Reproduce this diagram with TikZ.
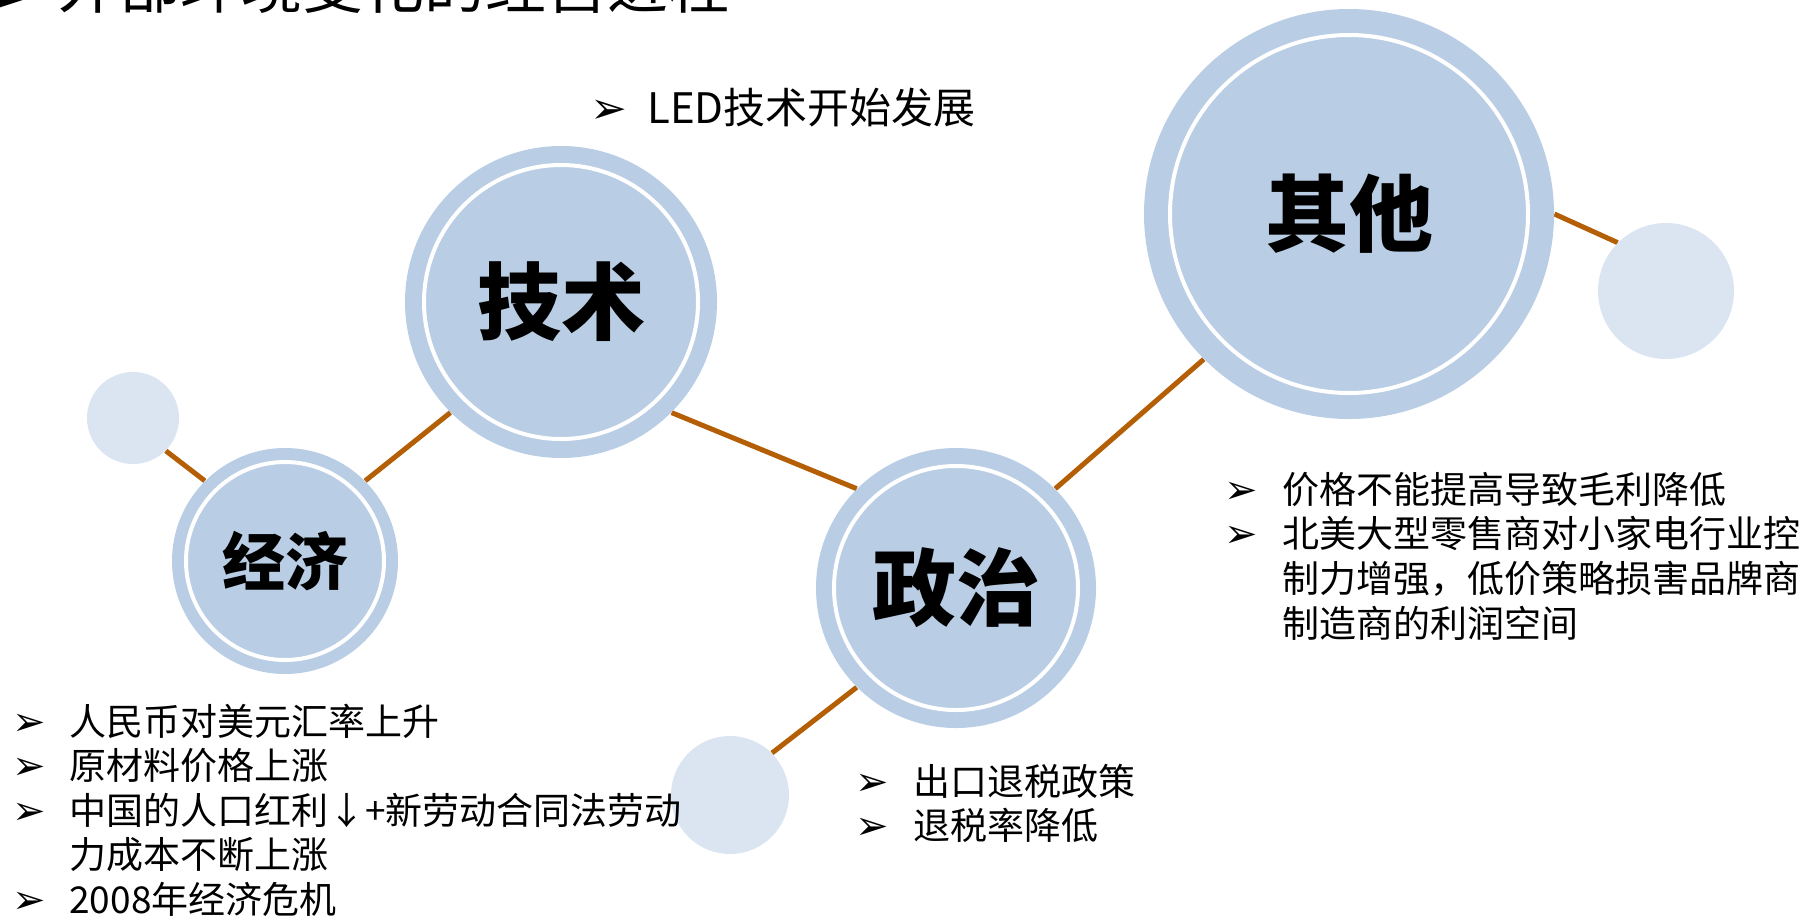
\documentclass[tikz,border=0pt]{standalone}
\usepackage{fontspec}
\setmainfont{Noto Sans CJK SC}
\newfontfamily\cjk{Noto Sans CJK SC}
\newfontfamily\dejavu{DejaVu Sans}
\usetikzlibrary{backgrounds}
\definecolor{mainblue}{RGB}{185,205,229}
\definecolor{lightblue}{RGB}{219,229,241}
\definecolor{linkc}{RGB}{180,95,6}
\newcommand{\bul}{{\dejavu\fontsize{20pt}{20pt}\selectfont ➢}}
\tikzset{
  bigc/.style={circle, fill=mainblue, inner sep=0pt, font=\cjk\bfseries},
  smallc/.style={circle, fill=lightblue, inner sep=0pt},
  ring/.style={draw=white, line width=2pt},
  link/.style={draw=linkc, line width=2.5pt},
  listtext/.style={anchor=base west, inner sep=0pt, font=\cjk\fontsize{18.5pt}{22.25pt}\selectfont},
}
\begin{document}
\begin{tikzpicture}[x=0.5pt,y=-0.5pt]
\useasboundingbox (0,0) rectangle (1809,917);
\clip (0,0) rectangle (1809,917);

% circles
\node[bigc, minimum size=156pt, font=\cjk\bfseries\fontsize{42pt}{48pt}\selectfont] (tech) at (561,302) {技术};
\node[bigc, minimum size=113pt, font=\cjk\bfseries\fontsize{31.5pt}{36pt}\selectfont] (jj) at (285,561) {经济};
\node[bigc, minimum size=140pt, font=\cjk\bfseries\fontsize{42pt}{48pt}\selectfont] (zz) at (956,588) {政治};
\node[bigc, minimum size=205pt, font=\cjk\bfseries\fontsize{42pt}{48pt}\selectfont] (qt) at (1349,214) {其他};
\node[smallc, minimum size=46pt] (stl) at (133,418) {};
\node[smallc, minimum size=59pt] (sb) at (730,795) {};
\node[smallc, minimum size=68pt] (sr) at (1666,291) {};

% white rings
\draw[ring] (tech.center) circle[radius=137];
\draw[ring] (jj.center) circle[radius=99];
\draw[ring] (zz.center) circle[radius=122];
\draw[ring] (qt.center) circle[radius=179];

% connectors
\begin{scope}[on background layer]
\draw[link] (stl.south east) -- (jj.north west);
\draw[link] (jj.north east) -- (tech.south west);
\draw[link] (tech.south east) -- (zz.north west);
\draw[link] (zz.north east) -- (qt.south west);
\draw[link] (qt.east) -- (sr.north west);
\draw[link] (zz.south west) -- (sb.north east);
\end{scope}

% title (cut off at top)
\node[anchor=base west, inner sep=0pt, font=\cjk\fontsize{30.5pt}{36pt}\selectfont] (title) at (-21,8)
  {\makebox[39.5pt][l]{\raisebox{-5pt}{\dejavu\fontsize{33pt}{33pt}\selectfont ➢}}外部环境变化的经营进程};

% texts
\node[anchor=base west, inner sep=0pt, font=\cjk\fontsize{21pt}{25pt}\selectfont] (led) at (590,123)
  {\makebox[28.5pt][l]{{\dejavu\fontsize{22pt}{22pt}\selectfont ➢}}LED技术开始发展};

\node[listtext] (econ) at (12,735) {\begin{tabular}[t]{@{}p{28.5pt}@{}l@{}}
\bul & 人民币对美元汇率上升\\
\bul & 原材料价格上涨\\
\bul & 中国的人口红利↓+新劳动合同法劳动\\
     & 力成本不断上涨\\
\bul & 2008年经济危机
\end{tabular}};

\node[listtext] (pol) at (855,795) {\begin{tabular}[t]{@{}p{29pt}@{}l@{}}
\bul & 出口退税政策\\
\bul & 退税率降低
\end{tabular}};

\node[listtext] (oth) at (1224,503) {\begin{tabular}[t]{@{}p{29pt}@{}l@{}}
\bul & 价格不能提高导致毛利降低\\
\bul & 北美大型零售商对小家电行业控\\
     & 制力增强，低价策略损害品牌商\\
     & 制造商的利润空间
\end{tabular}};
\end{tikzpicture}
\end{document}
